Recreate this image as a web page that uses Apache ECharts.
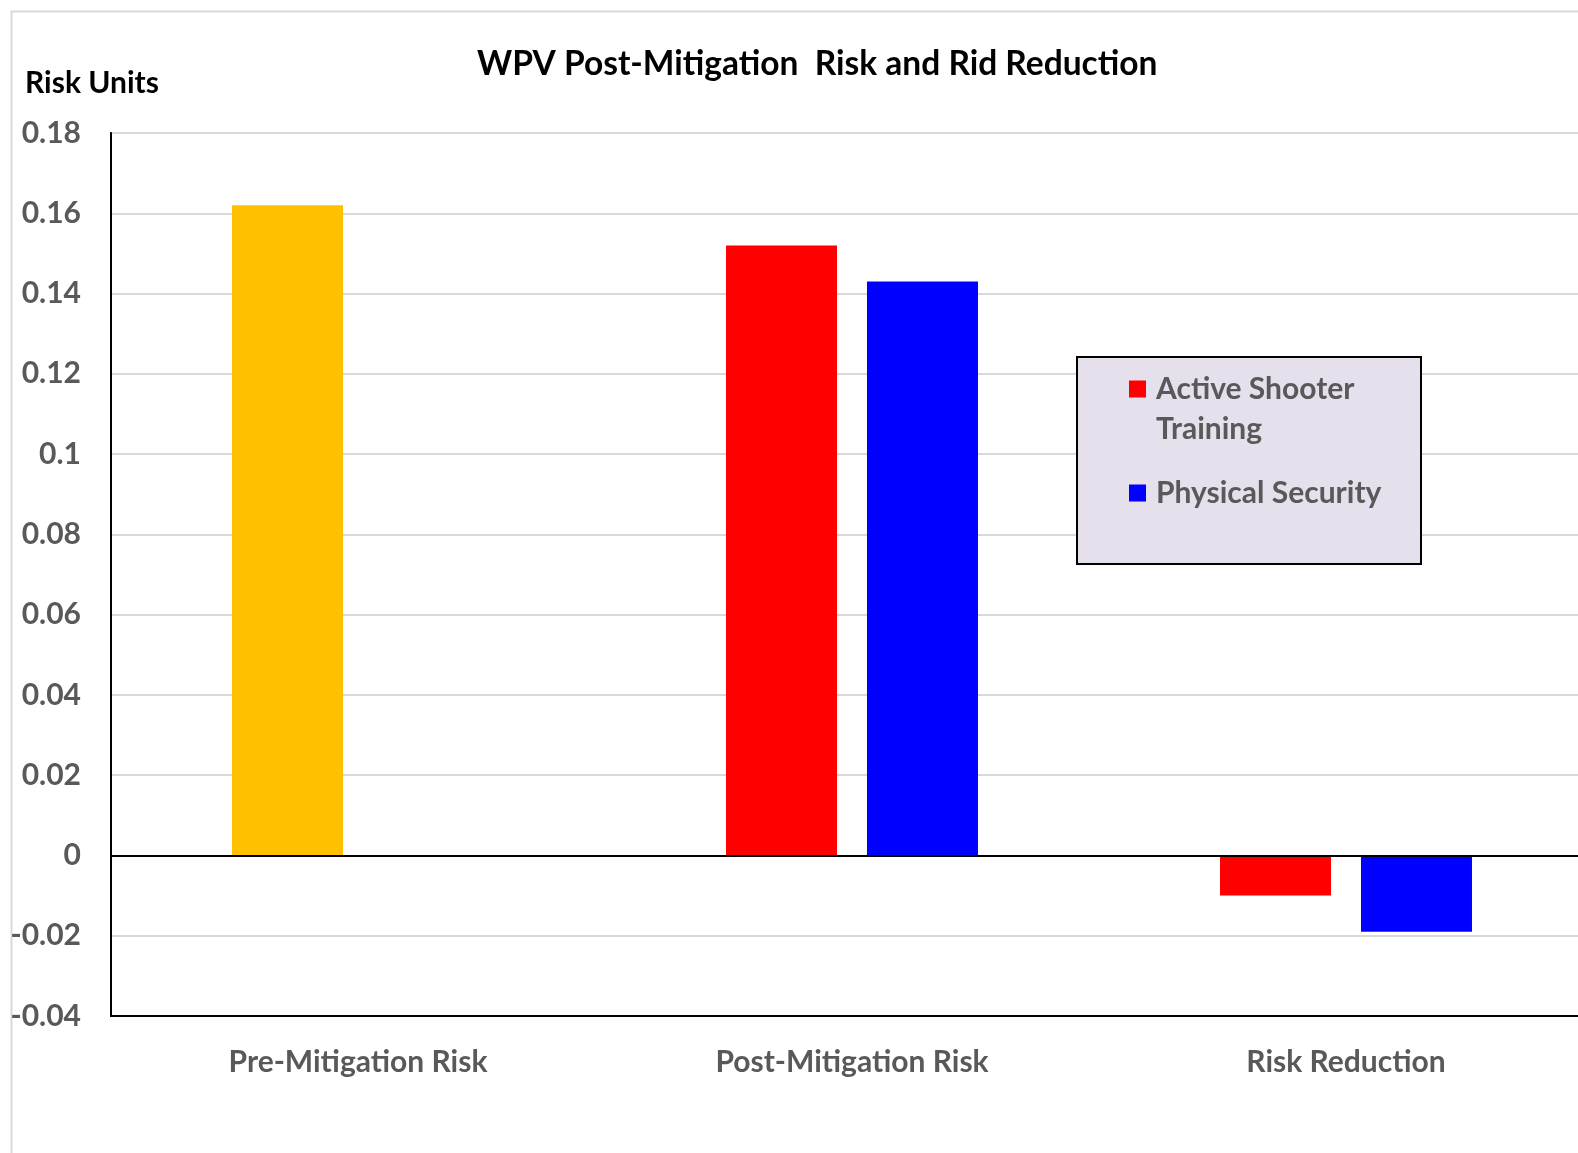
<!DOCTYPE html>
<html>
<head>
<meta charset="utf-8">
<script src="https://cdn.jsdelivr.net/npm/echarts@6/dist/echarts.min.js"></script>
<style>
html,body{margin:0;padding:0;background:#fff;}
#chart{width:1578px;height:1153px;}
</style>
</head>
<body>
<div id="chart"></div>
<script>
const categories = ['Pre-Mitigation Risk', 'Post-Mitigation Risk', 'Risk Reduction'];
const activeShooter = [0.162, 0.152, -0.010];
const physicalSecurity = [null, 0.143, -0.019];
const firstBarColor = '#FFC000';
const seriesNames = ['Active Shooter Training', 'Physical Security'];
const yTicks = {min: -0.04, max: 0.18, interval: 0.02};

const FONT = 'Lato';
const chart = echarts.init(document.getElementById('chart'), null, {renderer: 'canvas'});

const option = {
  backgroundColor: '#fff',
  animation: false,
  title: [
    {text: 'WPV Post-Mitigation  Risk and Rid Reduction', left: 477, top: 47, padding: 0,
     textStyle: {fontFamily: FONT, fontSize: 33.5, fontWeight: 'bold', color: '#000'}},
    {text: 'Risk Units', left: 25, top: 68, padding: 0,
     textStyle: {fontFamily: FONT, fontSize: 30, fontWeight: 'bold', color: '#000'}}
  ],
  graphic: [
    {type: 'rect', left: 9, top: 9, shape: {width: 1620, height: 1200}, z: -10,
     style: {fill: 'none', stroke: '#D9D9D9', lineWidth: 2}},
    {type: 'rect', left: 1076, top: 356, shape: {width: 344, height: 207}, z: 50,
     style: {fill: '#E5E0EC', stroke: '#000', lineWidth: 2}}
  ],
  legend: {
    orient: 'vertical', left: 1129, top: 329, padding: 0, itemGap: 24,
    itemWidth: 17, itemHeight: 17, icon: 'rect', z: 60,
    textStyle: {fontFamily: FONT, fontSize: 30, fontWeight: 'bold', color: '#595959', lineHeight: 40,
                padding: [0, 0, 0, 5]},
    data: [seriesNames[0], seriesNames[1]],
    formatter: function (n) { return n === seriesNames[0] ? '\nActive Shooter\nTraining' : n; }
  },
  grid: {left: 111, top: 133, width: 1482, height: 883, show: true, outerBoundsMode: 'none',
         containLabel: false,
         borderColor: '#000', borderWidth: 2, backgroundColor: 'transparent'},
  xAxis: {
    type: 'category', data: categories,
    axisLine: {onZero: false, lineStyle: {color: '#000', width: 2}},
    axisTick: {show: false},
    axisLabel: {margin: 31, fontFamily: FONT, fontSize: 30, fontWeight: 'bold', color: '#595959'}
  },
  yAxis: {
    type: 'value', min: yTicks.min, max: yTicks.max, interval: yTicks.interval,
    axisLine: {show: true, lineStyle: {color: '#000', width: 2}},
    axisTick: {show: false},
    splitLine: {lineStyle: {color: '#D9D9D9', width: 2}},
    axisLabel: {margin: 30, fontFamily: FONT, fontSize: 30, fontWeight: 'bold', color: '#595959'}
  },
  series: [
    {
      name: seriesNames[0], type: 'bar', barWidth: 111, barGap: '27%',
      itemStyle: {color: '#FF0000'},
      data: activeShooter.map((v, i) => i === 0 ? {value: v, itemStyle: {color: firstBarColor}} : v),
      markLine: {silent: true, symbol: 'none', label: {show: false},
        lineStyle: {color: '#000', width: 2, type: 'solid'}, data: [{yAxis: 0}]}
    },
    {
      name: seriesNames[1], type: 'bar', barWidth: 111,
      itemStyle: {color: '#0000FF'},
      data: physicalSecurity
    }
  ]
};
chart.setOption(option);
</script>
</body>
</html>
